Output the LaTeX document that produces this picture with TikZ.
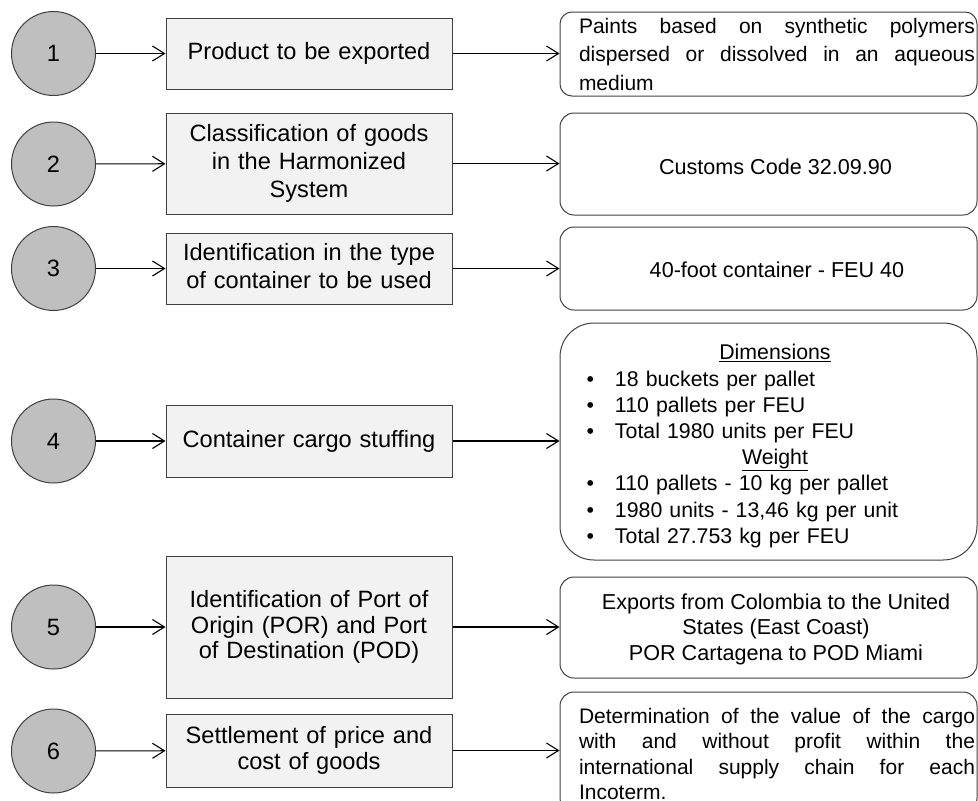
\documentclass[tikz,border=0pt]{standalone}
\usepackage{fontspec}
\setmainfont{Liberation Sans}
\usetikzlibrary{arrows.meta}
\definecolor{circfill}{HTML}{BFBFBF}
\definecolor{boxfill}{HTML}{F2F2F2}
\definecolor{edgecol}{HTML}{404040}
\newcommand{\bul}{\makebox[30pt][l]{\hspace{1.5pt}•}}
\newcommand{\jline}[1]{\makebox[396pt]{#1}}
\newcommand{\lstrut}{\rule[-0.212em]{0pt}{0.905em}}
\begin{document}
\begin{tikzpicture}[x=1pt,y=-1pt,
  every node/.style={font=\fontsize{23.6}{28.3}\selectfont},
  numcirc/.style={circle, draw=edgecol, fill=circfill, line width=1pt, minimum size=84pt, inner sep=0pt},
  stepbox/.style={rectangle, draw=edgecol, fill=boxfill, line width=1pt, minimum width=286pt, inner sep=0pt, align=center, text width=282pt},
  infobox/.style={rectangle, rounded corners=14pt, draw=edgecol, line width=1pt, minimum width=417pt, inner sep=0pt},
  infotext/.style={inner sep=0pt, align=center, font=\fontsize{21.6}{25.5}\selectfont},
  link/.style={-{Straight Barb[length=12pt,width=15pt]}, line width=1.1pt}
]
\useasboundingbox (0,0) rectangle (978,801);

% circles
\node[numcirc] (c1) at (53.5,53.5) {1};
\node[numcirc] (c2) at (53.5,164) {2};
\node[numcirc] (c3) at (53.5,268.5) {3};
\node[numcirc] (c4) at (53.5,441) {4};
\node[numcirc] (c5) at (53.5,627) {5};
\node[numcirc] (c6) at (53.5,751) {6};

% step boxes
\node[stepbox, minimum height=71pt] (s1) at (309,53.5) {\lstrut Product to be exported};
\node[stepbox, minimum height=101pt] (s2) at (309,163.5) {\lstrut Classification of goods\\in the Harmonized\\\lstrut System};
\node[stepbox, minimum height=71pt] (s3) at (309,268.5) {\lstrut Identification in the type\\\lstrut of container to be used};
\node[stepbox, minimum height=72pt] (s4) at (309,441) {\lstrut Container cargo stuffing};
\node[stepbox, minimum height=142pt, font=\fontsize{23.6}{25.5}\selectfont] (s5) at (309,627) {\lstrut Identification of Port of\\Origin (POR) and Port\\\lstrut of Destination (POD)};
\node[stepbox, minimum height=73pt, font=\fontsize{23.6}{25.5}\selectfont] (s6) at (309,750.5) {\lstrut Settlement of price and\\\lstrut cost of goods};

% info boxes
\node[infobox, rounded corners=12pt, minimum height=84pt] (r1) at (768.5,54) {};
\node[infobox, minimum height=102pt] (r2) at (768.5,164) {};
\node[infobox, minimum height=83pt] (r3) at (768.5,268.5) {};
\node[infobox, rounded corners=34pt, minimum height=237pt] (r4) at (768.5,441.5) {};
\node[infobox, minimum height=101pt] (r5) at (768.5,627.5) {};
\node[infobox, minimum height=120pt] (r6) at (768.5,752) {};

% info texts
\node[infotext, align=left, text width=396pt, font=\fontsize{21}{28.5}\selectfont] (t1) at (777,54)
  {\jline{Paints\hfill based\hfill on\hfill synthetic\hfill polymers}\\
   \jline{dispersed\hfill or\hfill dissolved\hfill in\hfill an\hfill aqueous}\\
   medium};
\node[infotext] (t2) at (775.5,166.5) {Customs Code 32.09.90};
\node[infotext] (t3) at (777,270) {40-foot container - FEU 40};
\node[infotext, align=left, text width=380pt, font=\fontsize{21.3}{26.2}\selectfont] (t4) at (775,446)
  {\makebox[380pt]{\underline{Dimensions}}\\
   \bul 18 buckets per pallet\\
   \bul 110 pallets per FEU\\
   \bul Total 1980 units per FEU\\
   \makebox[380pt]{\underline{Weight}}\\
   \bul 110 pallets - 10 kg per pallet\\
   \bul 1980 units - 13,46 kg per unit\\
   \bul Total 27.753 kg per FEU};
\node[infotext] (t5) at (776,629)
  {Exports from Colombia to the United\\States (East Coast)\\POR Cartagena to POD Miami};
\node[infotext, align=left, text width=396pt, font=\fontsize{21}{25.3}\selectfont] (t6) at (777,754)
  {\jline{Determination\hfill of\hfill the\hfill value\hfill of\hfill the\hfill cargo}\\
   \jline{with\hfill and\hfill without\hfill profit\hfill within\hfill the}\\
   \jline{international\hfill supply\hfill chain\hfill for\hfill each}\\
   Incoterm.};

% connectors
\foreach \i in {1,...,6} {
  \draw[link] (c\i) -- (s\i);
  \draw[link] (s\i.east) -- (s\i.east -| r\i.west);
}
\end{tikzpicture}
\end{document}
